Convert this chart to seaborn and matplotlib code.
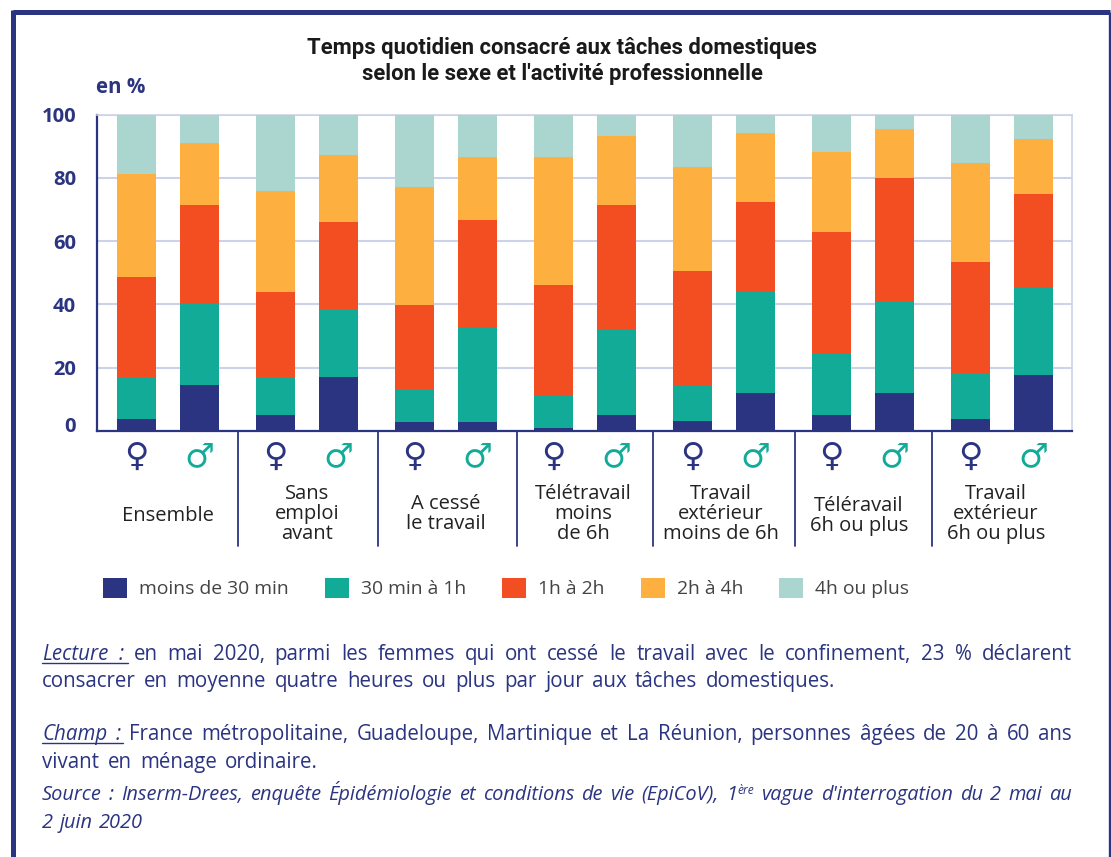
import numpy as np
import pandas as pd
import matplotlib
matplotlib.use("Agg")
import matplotlib.pyplot as plt
import seaborn as sns
from matplotlib.lines import Line2D
from matplotlib.patches import Patch
from matplotlib.transforms import ScaledTranslation

W, H = 1111, 857
NAVY = "#2b3481"
LAV = "#ccd2e8"

groups = ["Ensemble", "Sans\nemploi\navant", "A cessé\nle travail", "Télétravail\nmoins\nde 6h",
          "Travail\nextérieur\nmoins de 6h", "Téléravail\n6h ou plus", "Travail\nextérieur\n6h ou plus"]
series_names = ["moins de 30 min", "30 min à 1h", "1h à 2h", "2h à 4h", "4h ou plus"]
# alternating per group: women, men
moins_30 = [3.8, 14.5, 5, 17, 3, 3, 1, 5, 3.3, 12, 5, 12, 3.7, 17.8]
min30_1h = [13.2, 25.5, 12, 21.3, 10, 29.7, 10, 27, 11, 32, 19.3, 28.7, 14.3, 27.5]
h1_2 = [31.5, 31.5, 27, 27.7, 26.7, 34, 35, 39.3, 36.4, 28.3, 38.7, 39.3, 35.3, 29.7]
h2_4 = [32.8, 19.5, 31.7, 21.3, 37.3, 20, 40.7, 22, 32.8, 21.7, 25.3, 15.5, 31.4, 17.3]
h4_plus = [18.7, 9, 24.3, 12.7, 23, 13.3, 13.3, 6.7, 16.5, 6, 11.7, 4.5, 15.3, 7.7]
colors = ["#2b3481", "#12ab98", "#f34e22", "#fdb040", "#aad6cf"]

sns.set_theme(style="white")
plt.rcParams["font.family"] = ["Open Sans", "DejaVu Sans"]

fig = plt.figure(figsize=(W / 100, H / 100), dpi=100, facecolor="white")
ax = fig.add_axes([97 / W, 1 - 431 / H, (1072 - 97) / W, (431 - 114.5) / H])


def px(x, y):
    return x / W, 1 - y / H


vals = np.array([moins_30, min30_1h, h1_2, h2_4, h4_plus])
cum = np.cumsum(vals, axis=0)
n_bars = vals.shape[1]
pos = np.arange(n_bars) // 2 + (np.arange(n_bars) % 2) * 63 / 139
df = pd.DataFrame(cum.T, columns=series_names)
df["pos"] = pos

ax.set_axisbelow(True)
for name, col in reversed(list(zip(series_names, colors))):
    sns.barplot(data=df, x="pos", y=name, native_scale=True, color=col, saturation=1,
                width=39 / 63, gap=0, errorbar=None, ax=ax, zorder=3, linewidth=0)

ax.set_xlim((97 - 136.5) / 139, (1072 - 136.5) / 139)
ax.set_ylim(0, 100)
ax.set_xlabel("")
ax.set_ylabel("")
ax.set_xticks([])
ax.set_yticks([0, 20, 40, 60, 80, 100])
ax.grid(axis="y", color=LAV, lw=1.5)
ax.tick_params(axis="y", length=0, pad=15, labelsize=14.5, labelcolor=NAVY)
for lab in ax.get_yticklabels():
    lab.set_fontweight("bold")
ax.get_yticklabels()[0].set_transform(
    ax.get_yticklabels()[0].get_transform() + ScaledTranslation(0, 6 / 100, fig.dpi_scale_trans))
for s in ["top", "right"]:
    ax.spines[s].set_color(LAV)
    ax.spines[s].set_linewidth(1.2)
for s in ["left", "bottom"]:
    ax.spines[s].set_color(NAVY)
    ax.spines[s].set_linewidth(1.6)

# frame
for (x0, y0, x1, y1, lw) in [(12.5, 12, 1110, 12, 3.6), (12.5, 10, 12.5, 857, 3.6), (1109.7, 12, 1109.7, 857, 2.4)]:
    fig.add_artist(Line2D([x0 / W, x1 / W], [1 - y0 / H, 1 - y1 / H], color=NAVY, lw=lw, solid_capstyle="butt"))

# title and unit
fig.text(*px(562, 54), "Temps quotidien consacré aux tâches domestiques", ha="center", va="baseline",
         fontsize=15.8, fontweight="bold", color="#1a1a1a", family="Roboto")
fig.text(*px(562, 80), "selon le sexe et l'activité professionnelle", ha="center", va="baseline",
         fontsize=15.8, fontweight="bold", color="#1a1a1a", family="Roboto")
fig.text(*px(96, 93), "en %", ha="left", va="baseline", fontsize=14.8, fontweight="bold", color=NAVY)

# group dividers
for x in [238, 378, 517, 653, 795, 932]:
    fig.add_artist(Line2D([x / W, x / W], [1 - 431 / H, 1 - 546 / H], color=NAVY, lw=1.3))

# sex symbols
trans = ax.get_xaxis_transform()
for i, p in enumerate(pos):
    female = i % 2 == 0
    ax.text(p, -0.08, "♀" if female else "♂", transform=trans, ha="center", va="center",
            fontsize=24, color=NAVY if female else "#12ab98", fontweight="bold",
            family="DejaVu Sans", clip_on=False)

# group labels
centers = [168, 307, 446, 583, 721, 859, 996]
ys = [516, 514, 514, 514, 514, 516, 514]
for g, cx, cy in zip(groups, centers, ys):
    fig.text(*px(cx, cy), g, ha="center", va="center", fontsize=14.5, color="#222222", linespacing=1.02)

# legend
handles = [Patch(facecolor=c, edgecolor="none", label=n) for n, c in zip(series_names, colors)]
fig.legend(handles=handles, loc="center left", bbox_to_anchor=(px(103, 588)), ncol=5, frameon=False,
           fontsize=13.9, labelcolor="#444444", handlelength=24 / 19.3, handleheight=23 / 19.3,
           handletextpad=12 / 19.3, columnspacing=36 / 19.3, borderpad=0, borderaxespad=0)

# justified notes
renderer = fig.canvas.get_renderer()


def width_of(run, fs):
    t = fig.text(0, 0, run[0], fontsize=fs * run[2], style=run[1])
    w = t.get_window_extent(renderer).width
    t.remove()
    return w


def line(words, y, justify=True, x0=42, x1=1072, color=NAVY, fs=14.8, space=8):
    """words: list of words; a word is a list of runs (text, style, scale, rise)."""
    ws = [sum(width_of(r, fs) + 0.5 for r in w) for w in words]
    sp = (x1 - x0 - sum(ws)) / (len(words) - 1) if justify else space
    x = x0
    for w, wd in zip(words, ws):
        cx = x
        for r in w:
            fig.text(*px(cx, y - r[3]), r[0], fontsize=fs * r[2], style=r[1], color=color,
                     ha="left", va="baseline")
            cx += width_of(r, fs) + 0.5
        x += wd + sp


def plain(s, style="normal"):
    return [[(w, style, 1, 0)] for w in s.split()]


def underline(x0, x1, y):
    fig.add_artist(Line2D([x0 / W, x1 / W], [1 - y / H, 1 - y / H], color=NAVY, lw=1))


line(plain("Lecture :", "italic") + plain("en mai 2020, parmi les femmes qui ont cessé le travail avec le confinement, 23 % déclarent"), 660)
underline(42, 128, 663)
line(plain("consacrer en moyenne quatre heures ou plus par jour aux tâches domestiques."), 687, justify=False)
line(plain("Champ :", "italic") + plain("France métropolitaine, Guadeloupe, Martinique et La Réunion, personnes âgées de 20 à 60 ans"), 740)
underline(42, 123, 743)
line(plain("vivant en ménage ordinaire."), 768, justify=False)
src = plain("Source : Inserm-Drees, enquête Épidémiologie et conditions de vie (EpiCoV),", "italic")
src += [[("1", "italic", 1, 0), ("ère", "italic", 0.6, 6)]]
src += plain("vague d'interrogation du 2 mai au", "italic")
line(src, 800, fs=14.4)
line(plain("2 juin 2020", "italic"), 828, justify=False, fs=14.4, space=6)

fig.savefig("out.png", dpi=100, facecolor="white")
